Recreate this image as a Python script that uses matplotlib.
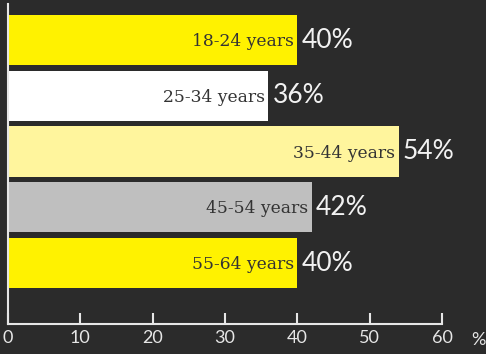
import numpy as np
import matplotlib.pyplot as plt

# data
groups = ['18-24 years', '25-34 years', '35-44 years', '45-54 years', '55-64 years']
share = [40, 36, 54, 42, 40]
colours = ['#fff200', '#ffffff', '#fff59d', '#bfbfbf', '#fff200']
xticks = [0, 10, 20, 30, 40, 50, 60]

bg = '#2b2b2b'
fg = '#e6e6e6'

fig = plt.figure(figsize=(4.86, 3.54), dpi=100, facecolor=bg)
ax = fig.add_axes([8/486, 30/354, 434/486, 320/354])
ax.set_facecolor(bg)

pos = np.arange(len(groups))
ax.barh(pos, share, height=0.9, color=colours)
ax.set_ylim(len(groups) - 1 + 1.094, -0.646)
ax.set_xlim(0, 60)

for p, v, g in zip(pos, share, groups):
    ax.text(v - 0.5, p + 0.03, g, ha='right', va='center', fontsize=12.3,
            family='DejaVu Serif', color='#333333')
    ax.text(v + 0.6, p, f'{v}%', ha='left', va='center', fontsize=19,
            family='Lato', color='#f2f2f2')

ax.set_xticks(xticks)
ax.set_xticklabels([str(t) for t in xticks], family='Lato', fontsize=13, color=fg)
ax.tick_params(axis='x', direction='in', length=8, width=1.5, color=fg, pad=4)
ax.set_yticks([])
for s in ['top', 'right']:
    ax.spines[s].set_visible(False)
for s in ['left', 'bottom']:
    ax.spines[s].set_color(fg)
    ax.spines[s].set_linewidth(1.5)

fig.text(478/486, 14/354, '%', ha='center', va='center', fontsize=13,
         family='Lato', color=fg)

fig.savefig('out.png', dpi=100, facecolor=bg)
